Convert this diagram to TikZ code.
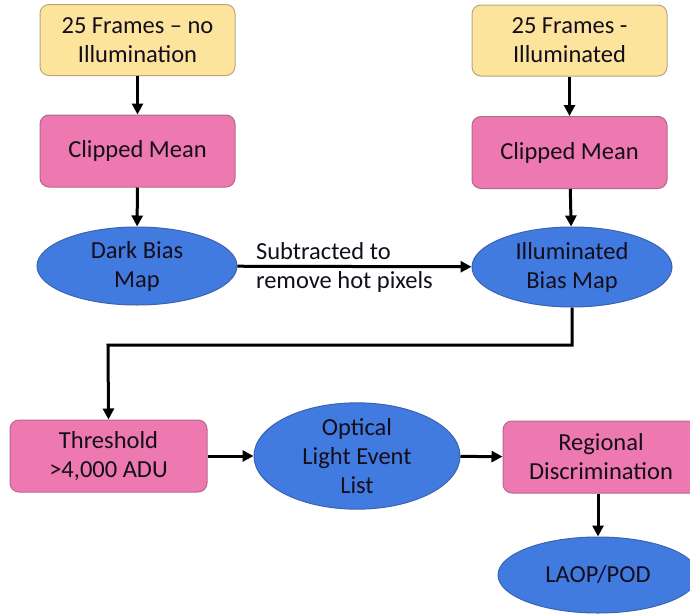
\documentclass[tikz,border=0pt]{standalone}
\usepackage{fontspec}
\setmainfont{Carlito}
\usetikzlibrary{shapes.geometric,arrows.meta}
\definecolor{ylw}{HTML}{FDE49C}
\definecolor{ylwb}{HTML}{B8A77A}
\definecolor{pnk}{HTML}{EE78B0}
\definecolor{pnkb}{HTML}{B06A8E}
\definecolor{blu}{HTML}{427BDF}
\definecolor{blub}{HTML}{3A63B0}
\definecolor{txt}{HTML}{140E1C}
\begin{document}
\begin{tikzpicture}[x=1pt,y=-1pt,
  lbl/.style={font=\fontsize{24.5}{29}\selectfont, text=txt, align=center},
  ybox/.style={lbl, draw=ylwb, fill=ylw, line width=1pt, rounded corners=9pt, minimum width=195pt, minimum height=71pt, inner sep=0pt},
  pbox/.style={lbl, draw=pnkb, fill=pnk, line width=1pt, rounded corners=9pt, minimum width=195pt, minimum height=72pt, inner sep=0pt},
  bell/.style={lbl, ellipse, draw=blub, fill=blu, line width=1pt, minimum width=200pt, minimum height=78pt, inner sep=0pt},
  arr/.style={draw=black, line width=3pt, -{Triangle[length=11pt,width=11pt]}}]
\useasboundingbox (0,0) rectangle (690,613);
\fill[white] (0,0) rectangle (690,613);
\begin{scope}
\clip (0,0) rectangle (690,613);
\node[ybox] (y1) at (137.5,40) {25 Frames – no\\Illumination};
\node[pbox] (p1) at (137.5,151) {Clipped Mean};
\node[bell] (e1) at (137,266) {Dark Bias\\Map};
\node[ybox] (y2) at (569.5,40.5) {25 Frames -\\Illuminated};
\node[pbox] (p2) at (569.5,152.5) {Clipped Mean};
\node[bell, minimum height=80pt] (e2) at (572,267) {Illuminated\\Bias Map};
\node[pbox, minimum width=197pt] (t1) at (108.5,456) {Threshold\\>4,000 ADU};
\node[bell, minimum width=206pt, minimum height=82pt] (e3) at (357,456) {Optical\\Light Event\\List};
\node[pbox, minimum width=196pt] (r1) at (601,457) {Regional\\Discrimination};
\node[bell, minimum width=200pt, minimum height=76pt] (e4) at (598,575) {LAOP/POD};
\coordinate (k1) at (572,345);
\coordinate (k2) at (108,345);
\draw[arr] (y1) -- (p1);
\draw[arr] (p1) -- (e1);
\draw[arr] (y2) -- (p2);
\draw[arr] (p2) -- (e2);
\draw[arr] (e1) -- (e2);
\node[lbl, align=left, anchor=west] (s1) at ([xshift=15pt,yshift=-1pt]e1.east) {Subtracted to\\remove hot pixels};
\draw[arr] (e2.south) -- (k1) -- (k2) -- (t1.north);
\draw[arr] (t1) -- (e3);
\draw[arr] (e3) -- (r1);
\draw[arr] (r1.south -| e4.north) -- (e4.north);
\end{scope}
\end{tikzpicture}
\end{document}
